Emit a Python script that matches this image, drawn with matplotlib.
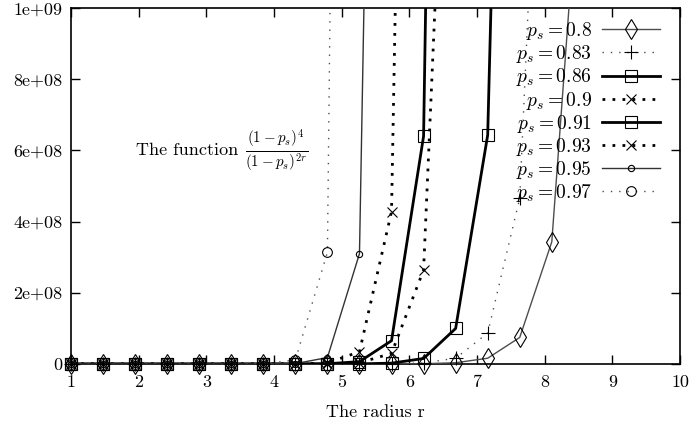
import numpy as np
import matplotlib
matplotlib.use('Agg')
import matplotlib.pyplot as plt
from matplotlib.ticker import FixedLocator, FixedFormatter

# ---- data ----
r = [1.0, 1.4737, 1.9474, 2.4211, 2.8947, 3.3684, 3.8421, 4.3158, 4.7895,
     5.2632, 5.7368, 6.2105, 6.6842, 7.1579, 7.6316, 8.1053, 8.5789]

f_080 = [0.04, 0.184, 0.844, 3.88, 17.8, 81.8, 376, 1729, 7941, 36470,
         1.675e5, 7.69e5, 3.53e6, 1.62e7, 7.46e7, 3.43e8, 1.57e9]
f_083 = [0.0289, 0.155, 0.830, 4.45, 23.8, 127.7, 684, 3670, 19660, 1.05e5,
         5.64e5, 3.02e6, 1.62e7, 8.69e7, 4.66e8, 2.5e9]
f_086 = [0.0196, 0.126, 0.813, 5.24, 33.7, 217, 1400, 9000, 58000, 3.74e5,
         2.41e6, 1.55e7, 9.98e7, 6.43e8, 4.14e9]
f_090 = [0.01, 0.0886, 0.785, 6.95, 61.6, 545, 4833, 42810, 3.79e5, 3.36e6,
         2.98e7, 2.64e8, 2.34e9]
f_091 = [0.0081, 0.0793, 0.776, 7.60, 74.4, 727, 7120, 69700, 6.83e5, 6.68e6,
         6.54e7, 6.40e8, 6.26e9]
f_093 = [0.0049, 0.0609, 0.756, 9.39, 116.6, 1448, 17990, 2.23e5, 2.77e6,
         3.45e7, 4.28e8, 5.32e9]
f_095 = [0.0025, 0.0427, 0.730, 12.46, 213, 3637, 62100, 1.06e6, 1.81e7,
         3.10e8, 5.29e9]
f_097 = [0.0009, 0.0250, 0.691, 19.2, 531, 14700, 4.08e5, 1.13e7, 3.14e8,
         8.7e9]

labels = ['$p_s = 0.8$', '$p_s = 0.83$', '$p_s = 0.86$', '$p_s = 0.9$',
          '$p_s = 0.91$', '$p_s = 0.93$', '$p_s = 0.95$', '$p_s = 0.97$']
series = [f_080, f_083, f_086, f_090, f_091, f_093, f_095, f_097]

x_ticks = [1, 2, 3, 4, 5, 6, 7, 8, 9, 10]
y_ticks = [0, 2e8, 4e8, 6e8, 8e8, 1e9]
y_tick_labels = ['0', '2e+08', '4e+08', '6e+08', '8e+08', '1e+09']

# ---- styles ----
thin_dot = (0, (1, 5))
bold_dot = (0, (1, 2.6))
styles = [
    dict(ls='-', lw=1.0, c='0.3', marker='d', ms=10),
    dict(ls=thin_dot, lw=1.0, c='0.3', marker='+', ms=10),
    dict(ls='-', lw=2.0, c='black', marker='s', ms=8.5),
    dict(ls=bold_dot, lw=2.0, c='black', marker='x', ms=7.5),
    dict(ls='-', lw=2.0, c='black', marker='s', ms=8.5),
    dict(ls=bold_dot, lw=2.0, c='black', marker='x', ms=7.5),
    dict(ls='-', lw=1.0, c='0.2', marker='o', ms=4.5),
    dict(ls=thin_dot, lw=1.0, c='0.3', marker='o', ms=7),
]

plt.rcParams['font.family'] = ['serif']
plt.rcParams['font.serif'] = ['cmr10', 'DejaVu Serif']
plt.rcParams['mathtext.fontset'] = 'cm'
plt.rcParams['axes.formatter.use_mathtext'] = True
plt.rcParams['font.size'] = 13

fig = plt.figure(figsize=(6.91, 4.30), dpi=100)
ax = fig.add_axes([71/691, (430-364)/430, (680-71)/691, (364-8)/430])

ymax = 1e9
handles = []
for vals, st, lab in zip(series, styles, labels):
    xs = np.array(r[:len(vals)])
    ys = np.array(vals)
    ax.plot(xs, ys, color=st['c'], ls=st['ls'], lw=st['lw'], zorder=3)
    m = ys <= ymax
    ax.plot(xs[m], ys[m], ls='none', marker=st['marker'], ms=st['ms'],
            mfc='none', mec='black', mew=0.8, clip_on=False, zorder=4)
    h, = ax.plot([], [], color=st['c'], ls=st['ls'], lw=st['lw'],
                 marker=st['marker'], ms=st['ms'], mfc='none', mec='black',
                 mew=0.8, label=lab)
    handles.append(h)

ax.set_xlim(1, 10)
ax.set_ylim(0, ymax)
ax.xaxis.set_major_locator(FixedLocator(x_ticks))
ax.xaxis.set_major_formatter(FixedFormatter([str(t) for t in x_ticks]))
ax.yaxis.set_major_locator(FixedLocator(y_ticks))
ax.yaxis.set_major_formatter(FixedFormatter(y_tick_labels))
ax.tick_params(direction='in', length=6.5, width=1.0, top=True, right=True)
ax.tick_params(axis='x', pad=8)
ax.tick_params(axis='y', pad=6)
for s in ax.spines.values():
    s.set_linewidth(1.2)

ax.set_xlabel('The radius r', labelpad=10)

t = ax.text(1.96, 6.0e8, 'The function', ha='left', va='center', fontsize=13)
ax.annotate(r'$\frac{(1-p_s)^4}{(1-p_s)^{2r}}$', xy=(1, 0.5), xycoords=t,
            xytext=(5, 0), textcoords='offset points',
            ha='left', va='center', fontsize=15.5)

leg = ax.legend(handles=handles, loc='upper right', bbox_to_anchor=(0.967, 0.966),
                markerfirst=False, frameon=False, borderpad=0, borderaxespad=0,
                handlelength=3.0, handletextpad=0.5, labelspacing=0.06,
                fontsize=14)

fig.savefig('out.png', dpi=100)
